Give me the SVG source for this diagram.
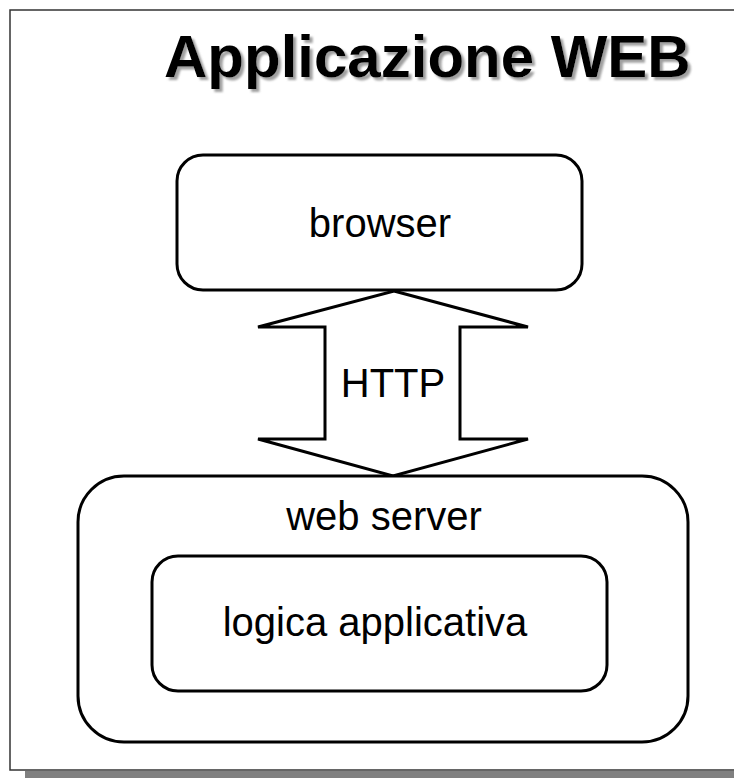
<svg xmlns="http://www.w3.org/2000/svg" width="734" height="778" viewBox="0 0 734 778">
  <style>
    .box { fill: #ffffff; stroke: #000000; stroke-width: 3; }
    .lbl { font-family: "Liberation Sans", Arial, sans-serif; font-size: 40px; fill: #000000; text-anchor: middle; }
    .title { font-family: "Liberation Sans", Arial, sans-serif; font-size: 60px; font-weight: bold; fill: #000000; }
  </style>
  <defs>
    <!-- soft grey drop shadow for the heading -->
    <filter id="title-shadow" x="-5%" y="-20%" width="110%" height="150%">
      <feDropShadow dx="3" dy="3" stdDeviation="1.2" flood-color="#888888" flood-opacity="0.8"/>
    </filter>
  </defs>

  <!-- page background, frame and drop shadow -->
  <rect x="0" y="0" width="734" height="778" fill="#ffffff"/>
  <rect x="25" y="771" width="709" height="7" fill="#808080"/>
  <rect x="10" y="10" width="740" height="760" fill="#ffffff" stroke="#333333" stroke-width="1.5"/>

  <g id="title">
    <text class="title" x="164" y="77" filter="url(#title-shadow)">Applicazione WEB</text>
  </g>

  <g id="browser">
    <rect class="box" x="177" y="155" width="405" height="135" rx="26" ry="26"/>
    <text class="lbl" x="380" y="237">browser</text>
  </g>

  <g id="connectors">
    <!-- double-headed block arrow labelled HTTP -->
    <path class="box" d="M394,291 L528,327 L460,327 L460,439 L528,439 L393,476 L258,439 L325,439 L325,327 L258,327 Z" stroke-linejoin="miter"/>
    <text class="lbl" x="393" y="397">HTTP</text>
  </g>

  <g id="web-server">
    <rect class="box" x="78" y="476" width="610" height="266" rx="46" ry="46"/>
    <text class="lbl" x="384" y="530">web server</text>
  </g>

  <g id="logica-applicativa">
    <rect class="box" x="152" y="556" width="455" height="135" rx="26" ry="26"/>
    <text class="lbl" x="375" y="636">logica applicativa</text>
  </g>
</svg>
